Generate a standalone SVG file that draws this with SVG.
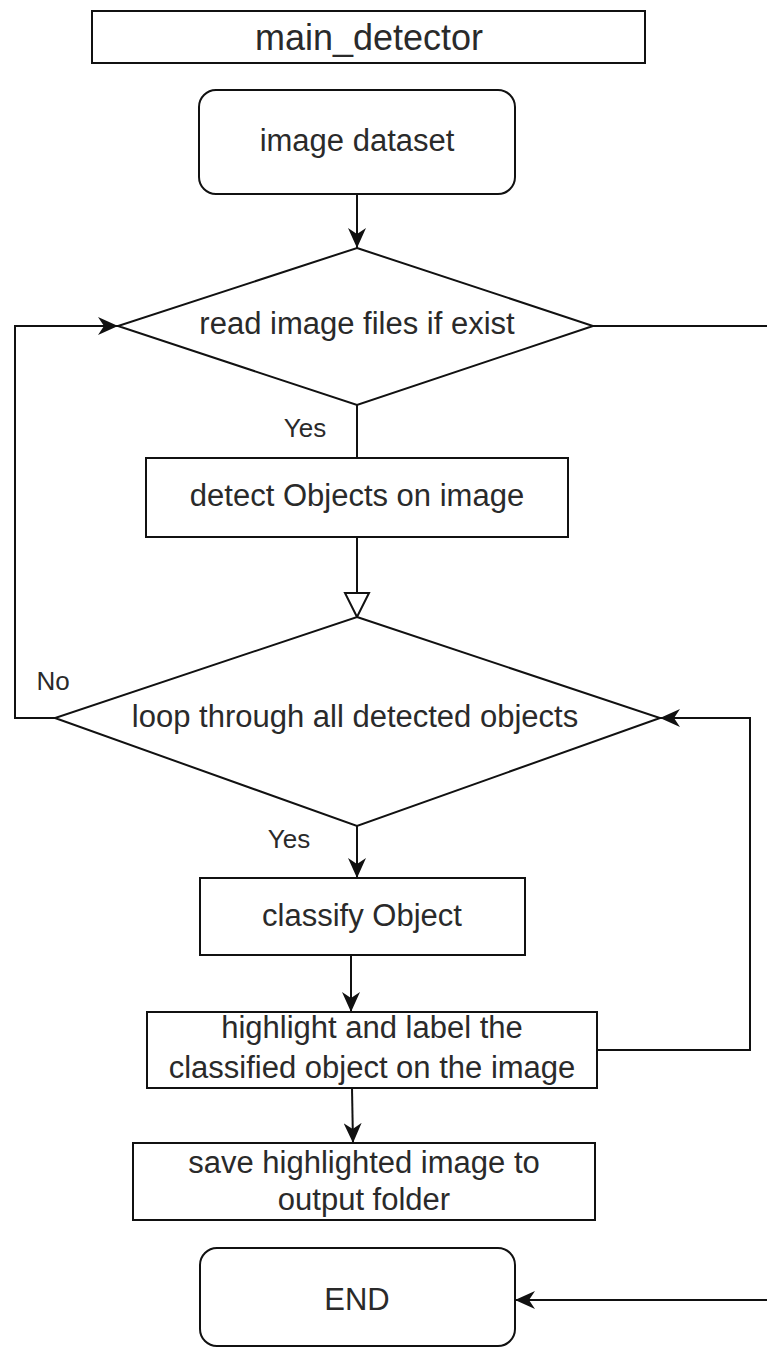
<svg xmlns="http://www.w3.org/2000/svg" width="767" height="1349" viewBox="0 0 767 1349">
  <style>
    .box { fill: #ffffff; stroke: #111111; stroke-width: 2; }
    .edge { fill: none; stroke: #111111; stroke-width: 2; }
    .t { font-family: "Liberation Sans", Arial, sans-serif; fill: #2a2a2a; text-anchor: middle; }
    .n { font-size: 31px; }
    .lbl { font-size: 26px; }
    .title { font-size: 36px; }
  </style>
  <defs>
    <marker id="arrow" markerUnits="userSpaceOnUse" markerWidth="20" markerHeight="18" viewBox="0 0 20 18" refX="20" refY="9" orient="auto">
      <path d="M0,0 L20,9 L0,18 L6,9 Z" fill="#111111"/>
    </marker>
    <marker id="hollow" markerUnits="userSpaceOnUse" markerWidth="28" markerHeight="28" viewBox="0 0 28 28" refX="26" refY="14" orient="auto">
      <path d="M2,2 L26,14 L2,26 Z" fill="#ffffff" stroke="#111111" stroke-width="2"/>
    </marker>
  </defs>
  <rect width="767" height="1349" fill="#ffffff"/>

  <g id="connectors">
    <line class="edge" x1="357" y1="194" x2="357" y2="248" marker-end="url(#arrow)"/>
    <polyline class="edge" points="55,718 15,718 15,326 118,326" marker-end="url(#arrow)"/>
    <path class="edge" d="M593,326 H790 V1300 H515" marker-end="url(#arrow)"/>
    <line class="edge" x1="357" y1="405" x2="357" y2="458"/>
    <line class="edge" x1="357" y1="537" x2="357" y2="617" marker-end="url(#hollow)"/>
    <line class="edge" x1="357" y1="826" x2="357" y2="878" marker-end="url(#arrow)"/>
    <line class="edge" x1="351" y1="955" x2="351" y2="1012" marker-end="url(#arrow)"/>
    <polyline class="edge" points="597,1050 750,1050 750,718 660,718" marker-end="url(#arrow)"/>
    <line class="edge" x1="352" y1="1088" x2="353" y2="1143" marker-end="url(#arrow)"/>
    <text class="t lbl" x="305" y="437">Yes</text>
    <text class="t lbl" x="53" y="690">No</text>
    <text class="t lbl" x="289" y="848">Yes</text>
  </g>

  <g id="title">
    <rect class="box" x="92" y="11" width="553" height="52"/>
    <text class="t title" x="369" y="50">main_detector</text>
  </g>

  <g id="image-dataset">
    <rect class="box" x="199" y="90" width="316" height="104" rx="17"/>
    <text class="t n" x="357" y="151">image dataset</text>
  </g>

  <g id="read-files">
    <polygon class="box" points="357,248 593,326 357,405 118,326"/>
    <text class="t n" x="357" y="334">read image files if exist</text>
  </g>

  <g id="detect-objects">
    <rect class="box" x="146" y="458" width="422" height="79"/>
    <text class="t n" x="357" y="506">detect Objects on image</text>
  </g>

  <g id="loop-objects">
    <polygon class="box" points="357,617 660,718 357,826 55,718"/>
    <text class="t n" x="355" y="727">loop through all detected objects</text>
  </g>

  <g id="classify">
    <rect class="box" x="200" y="878" width="325" height="77"/>
    <text class="t n" x="362" y="926">classify Object</text>
  </g>

  <g id="highlight">
    <rect class="box" x="147" y="1012" width="450" height="76"/>
    <text class="t n" x="372" y="1038">highlight and label the</text>
    <text class="t n" x="372" y="1078">classified object on the image</text>
  </g>

  <g id="save">
    <rect class="box" x="133" y="1143" width="462" height="77"/>
    <text class="t n" x="364" y="1173">save highlighted image to</text>
    <text class="t n" x="364" y="1210">output folder</text>
  </g>

  <g id="end">
    <rect class="box" x="200" y="1248" width="315" height="98" rx="17"/>
    <text class="t n" x="357" y="1310">END</text>
  </g>
</svg>
